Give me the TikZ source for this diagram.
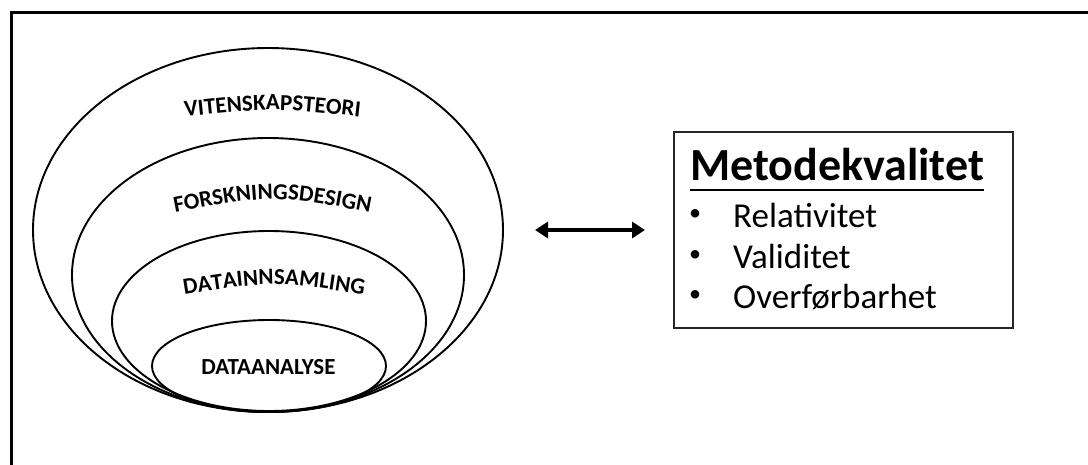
\documentclass[tikz,border=0pt]{standalone}
\usepackage{fontspec}
\setmainfont{Carlito}
\usetikzlibrary{arrows.meta,decorations.text}
\newcommand{\ringfont}{\bfseries\fontsize{23}{26}\selectfont}
\tikzset{
  ring/.style={line width=1.9pt, draw=black},
  ringlabel/.style={font=\ringfont, inner sep=0pt},
  arclabel/.style={decorate, decoration={text along path, text align=center, text={#1}}},
  itemtext/.style={font=\fontsize{35}{40}\selectfont, inner sep=0pt, anchor=base west},
  bullettext/.style={font=\fontsize{24}{28}\selectfont, inner sep=0pt, anchor=center},
  dblarrow/.style={line width=3.6pt, {Triangle[length=13pt,width=16pt]}-{Triangle[length=13pt,width=16pt]}},
}
\begin{document}
\begin{tikzpicture}[x=1pt,y=-1pt]
\useasboundingbox (0,0) rectangle (1088,464);
\fill[white] (0,0) rectangle (1088,464);
% outer frame (cropped at right and bottom)
\draw[line width=3pt, black] (11,470) -- (11,12.5) -- (1095,12.5);
% nested ellipses
\draw[ring] (268,230) ellipse [x radius=235pt, y radius=182pt];
\draw[ring] (268,275) ellipse [x radius=196pt, y radius=137pt];
\draw[ring] (269,321) ellipse [x radius=157pt, y radius=90pt];
\draw[ring] (269,366) ellipse [x radius=117pt, y radius=46pt];
% arched labels
\path[arclabel={|\ringfont|VITENSKAPSTEORI}] (165,119) .. controls (272.5,107) .. (380,119);
\path[arclabel={|\ringfont|FORSKNINGSDESIGN}] (155,216.6) .. controls (272.5,193.4) .. (390,216.6);
\path[arclabel={|\ringfont|DATAINNSAMLING}] (165,298) .. controls (274,280) .. (383,298);
\node[ringlabel, anchor=base] (l4) at (268.5,374) {DATAANALYSE};
% arrow
\coordinate (al) at (535,230);
\coordinate (ar) at (645,230);
\draw[dblarrow] (al) -- (ar);
% quality box
\node[draw=black!85, line width=1.8pt, minimum width=339pt, minimum height=196pt, inner sep=0pt] (box) at (843.5,230) {};
\node[font=\bfseries\fontsize{46}{52}\selectfont, inner sep=0pt, anchor=base west] (title) at (690,180) {Metodekvalitet};
\draw[line width=2pt] ([yshift=-10pt]title.base west) -- ([yshift=-10pt]title.base east);
\node[bullettext] (b1) at (695,215) {•};
\node[itemtext] (t1) at (733,227) {Relativitet};
\node[bullettext] (b2) at (695,256) {•};
\node[itemtext] (t2) at (733,268) {Validitet};
\node[bullettext] (b3) at (695,296) {•};
\node[itemtext] (t3) at (733,308) {Overførbarhet};
\end{tikzpicture}
\end{document}
